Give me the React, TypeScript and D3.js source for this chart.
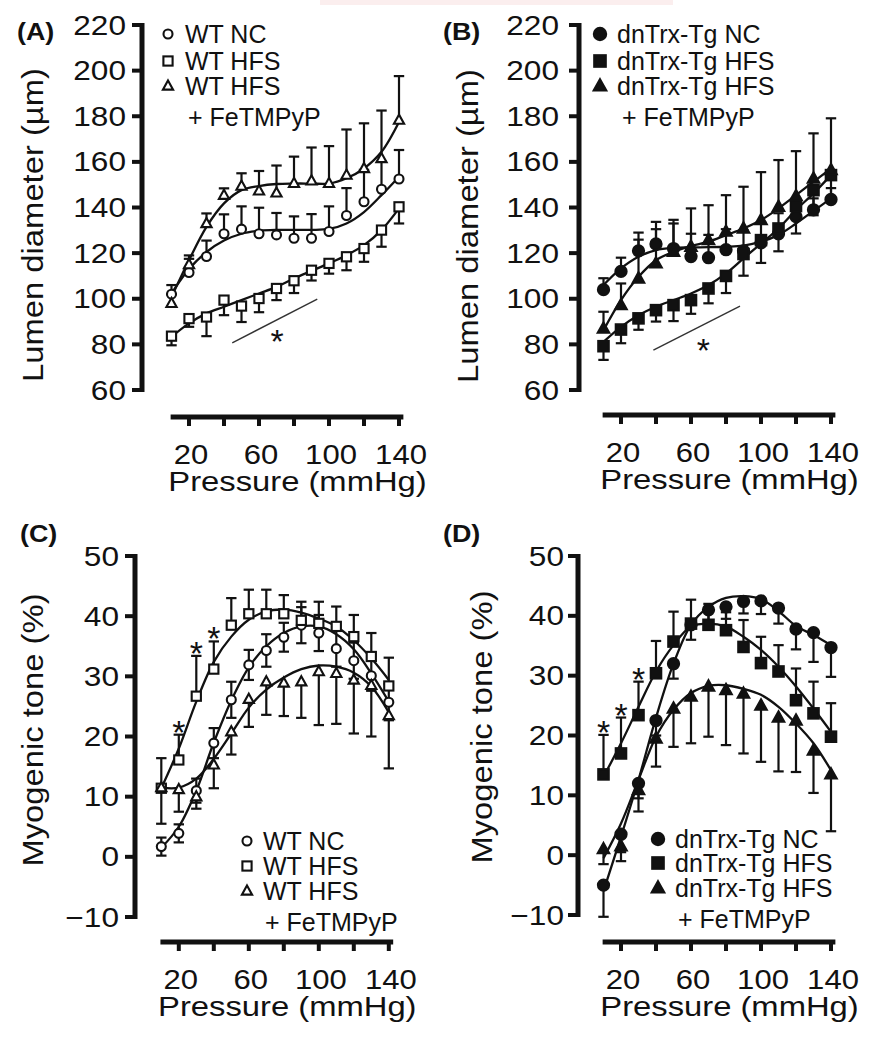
import React from "react";
import * as d3 from "d3";

// ---------------- DATA ----------------
const pressure = [10, 20, 30, 40, 50, 60, 70, 80, 90, 100, 110, 120, 130, 140];
const xTickValues = [20, 40, 60, 80, 100, 120, 140];
const xTickLabels = [20, 60, 100, 140];
const yTicksDiameter = [60, 80, 100, 120, 140, 160, 180, 200, 220];
const yTicksTone = [-10, 0, 10, 20, 30, 40, 50];

const legendWT = ["WT NC", "WT HFS", "WT HFS"];
const legendTg = ["dnTrx-Tg NC", "dnTrx-Tg HFS", "dnTrx-Tg HFS"];
const legendSuffix = "+ FeTMPyP";

// (A) WT lumen diameter (µm)
const wtNcDiam = [102, 111.5, 118.5, 128.5, 130.5, 128.5, 128, 126.5, 126.5, 129.5, 136.5, 142.5, 148, 152.5];
const wtNcDiamErr = [4, 6, 7, 8.5, 10, 11.4, 9.6, 9.6, 10.6, 11, 12, 14, 12, 12.7];
const wtNcDiamFit = [102.3, 113, 120.5, 125.5, 128.5, 129.8, 130.2, 130.2, 130.2, 130.6, 133, 138, 145.4, 153.5];
const wtHfsDiam = [83.6, 91.3, 92, 99.4, 96.8, 100.1, 104.5, 107.9, 112.5, 115.5, 118.4, 122, 130.1, 140.3];
const wtHfsDiamErr = [4, 3.6, 8.4, 6.6, 7, 6, 5.1, 5.4, 4.5, 4.5, 5.9, 5.8, 7.3, 7.3];
const wtHfsDiamFit = [83.3, 89.2, 93.6, 96.5, 99.4, 102.3, 105.2, 108.9, 112.2, 115.5, 119.1, 123.5, 130.1, 139.6];
const wtFeDiam = [98, 115, 133, 145.4, 149.4, 147.3, 146.4, 150.6, 151.7, 150.6, 154.2, 157.1, 161.5, 178.3];
const wtFeDiamErr = [4, 4, 4.4, 3, 5.6, 8.7, 12, 11.7, 14.6, 16.3, 20, 19.8, 21, 19.3];
const wtFeDiamFit = [100.8, 116.9, 131.5, 141.8, 147.6, 149.4, 150.3, 150.5, 150.5, 150.5, 152.8, 157.1, 164.4, 177.5];

// (B) dnTrx-Tg lumen diameter (µm)
const tgNcDiam = [104, 112, 121, 124, 122, 118.5, 118, 121.5, 121, 124.5, 128.5, 136, 139, 143.5];
const tgNcDiamErr = [5, 6, 8, 9.7, 11, 10, 10, 9, 9, 9, 9, 8, 5, 5];
const tgNcDiamFit = [106, 113.3, 118.4, 121.3, 122.3, 122.5, 122.6, 122.8, 123.3, 125, 128, 133, 138.5, 144];
const tgHfsDiam = [79.2, 86.5, 91.4, 95, 97.2, 99.4, 104.5, 110, 119.6, 125.7, 130.8, 140.6, 147.6, 154.2];
const tgHfsDiamErr = [6, 6, 5, 5, 7, 6, 6.5, 7.5, 9.5, 10, 10, 12, 11, 10];
const tgHfsDiamFit = [81.1, 87.7, 92.8, 96.5, 99.4, 102.3, 106, 111.1, 117.7, 124.2, 130.8, 138.9, 146.2, 154.2];
const tgFeDiam = [86.9, 97.2, 108.9, 115.5, 120.6, 122.8, 125.7, 129.4, 130.8, 134.5, 140.3, 145, 152.7, 156.4];
const tgFeDiamErr = [7.4, 9.5, 17, 15, 14, 16.8, 15.3, 16, 18.3, 21, 20.5, 19.7, 19.8, 22.7];
const tgFeDiamFit = [86.2, 99.4, 109.6, 116.9, 120.6, 123.1, 125, 127.9, 130.8, 134.5, 139.6, 145.4, 151.3, 157.1];

// (C) WT myogenic tone (%)
const wtNcTone = [1.7, 3.9, 11, 18.9, 26.1, 31.9, 34.3, 36.5, 38.5, 37.2, 34.6, 32.6, 30.1, 25.7];
const wtNcToneErr = [1.5, 1.5, 2, 2.5, 3, 2.5, 2.7, 2.4, 3, 3, 3, 3, 2.5, 3];
const wtNcToneFit = [1.5, 5, 11, 19, 26, 31.5, 35, 37.2, 38.3, 38.3, 37, 34.5, 30.5, 25.8];
const wtHfsTone = [11.4, 16.1, 26.7, 31.2, 38.5, 40.4, 40.4, 40.4, 39.3, 38.8, 38.3, 36.6, 33.3, 28.4];
const wtHfsToneErr = [5, 4.2, 6.7, 4.6, 4.5, 4, 4, 3.1, 3.1, 3.6, 3.3, 3.6, 3.9, 4.7];
const wtHfsToneFit = [11.4, 18, 25.8, 32.4, 36.6, 39.4, 40.8, 41.1, 40.6, 39.6, 38.3, 36, 33, 29.4];
const wtFeTone = [11.5, 11.2, 10, 15.3, 20.8, 26.2, 29.1, 28.9, 29.1, 30.8, 30.5, 29.4, 28.5, 23.5];
const wtFeToneErr = [6, 3.7, 2, 3.9, 3.8, 4.6, 5.5, 5.5, 6, 8.9, 8.4, 8.9, 8.5, 8.8];
const wtFeToneFit = [11.5, 11.5, 13, 16.3, 20.5, 24.8, 27.8, 29.8, 31.2, 31.8, 31.6, 30.6, 28.3, 24];

// (D) dnTrx-Tg myogenic tone (%)
const tgNcTone = [-5, 3.5, 12, 22.5, 32, 38.5, 41, 41.5, 42.4, 42.5, 41.3, 37.8, 37.2, 34.7];
const tgNcToneErr = [5.3, 3, 2.5, 2.5, 2.5, 2.5, 2, 2, 2, 2.2, 2.6, 3.4, 4.9, 4.9];
const tgNcToneFit = [-6, 3.1, 12.6, 23, 32, 38.5, 41.5, 43, 43.3, 42.8, 40.8, 38.3, 36.8, 35.1];
const tgHfsTone = [13.5, 17, 23.4, 30.4, 35.7, 38.7, 38.5, 37.6, 34.8, 32.1, 30.7, 25.9, 23.7, 19.8];
const tgHfsToneErr = [6.6, 6, 5.6, 5.4, 5, 4, 3.5, 3, 4.5, 4.4, 4.4, 5.3, 5.3, 5.6];
const tgHfsToneFit = [13.1, 18.7, 24.8, 30.7, 35.1, 38.2, 38.7, 38.2, 36.5, 34.3, 31.5, 28.2, 24.5, 20.6];
const tgFeTone = [1, 1.5, 10.9, 19.5, 24.5, 26.5, 28.2, 27.6, 27, 25, 23, 22.5, 17.5, 13.5];
const tgFeToneErr = [2.5, 2.5, 3.6, 4.7, 6.4, 7.8, 8.4, 9.2, 10, 9.4, 9, 8.6, 7.1, 9.5];
const tgFeToneFit = [-0.5, 5.3, 12.6, 19.8, 24.3, 27.1, 28.3, 28.4, 27.8, 26.8, 24.8, 22, 18.7, 14.2];

// significance annotations ([pressure, value])
const sigLineA = [[44.7, 80.7], [93.3, 99.8]];
const sigStarA = [70.4, 84.8];
const sigLineB = [[38.5, 77.5], [88, 96.8]];
const sigStarB = [67, 81.1];
const sigPressuresC = [20, 30, 40];
const sigPressuresD = [10, 20, 30];

// ---------------- RENDERING ----------------
const FONT = "'Liberation Sans', Arial, Helvetica, sans-serif";
const INK = "#111";

type Shape = "circle" | "square" | "triangle";
type Series = {
  values: number[];
  err: number[];
  fit: number[];
  shape: Shape;
  filled: boolean;
  dir: "up" | "down" | "both";
};

function T(props: any) {
  const { x, y, size = 28, sx = 1.15, anchor = "start", rotate = 0, weight = "normal", children } = props;
  return (
    <text
      transform={`translate(${x},${y}) rotate(${rotate}) scale(${sx},1)`}
      fontSize={size}
      fontFamily={FONT}
      fontWeight={weight}
      textAnchor={anchor}
      fill={INK}
    >
      {children}
    </text>
  );
}

function Marker({ shape, filled, cx, cy, k = 1 }: any) {
  const fill = filled ? INK : "#fff";
  const sw = 2.1;
  if (shape === "circle") {
    const r = (filled ? 5.6 : 4.5) * k;
    return <circle cx={cx} cy={cy} r={r} fill={fill} stroke={INK} strokeWidth={sw} />;
  }
  if (shape === "square") {
    const s = (filled ? 10.5 : 9.2) * k;
    return <rect x={cx - s / 2} y={cy - s / 2} width={s} height={s} fill={fill} stroke={INK} strokeWidth={sw} />;
  }
  const w = (filled ? 11.5 : 10.2) * k;
  const h = w * 0.9;
  const d = `M${cx},${cy - h * 0.6}L${cx + w / 2},${cy + h * 0.4}L${cx - w / 2},${cy + h * 0.4}Z`;
  return <path d={d} fill={fill} stroke={INK} strokeWidth={sw} strokeLinejoin="miter" />;
}

function Panel({ p }: any) {
  const x = d3.scaleLinear().domain([0, 140]).range([p.x0, p.x0 + 140 * 1.75]);
  const y = d3.scaleLinear().domain(p.yDomain).range(p.yRange);
  const line = d3
    .line<number>()
    .x((_, i) => x(pressure[i]))
    .y((d) => y(d))
    .curve(d3.curveCatmullRom.alpha(0.5));
  const fmt = d3.format("d");
  const yTop = y(p.yDomain[1]);
  const yBot = y(p.yDomain[0]);
  const series: Series[] = p.series;
  const cap = 5.2;

  return (
    <g>
      {/* panel label */}
      <T x={p.labelX} y={p.labelY} size={24} weight="bold" sx={1.12}>{p.label}</T>

      {/* y axis */}
      <line x1={p.yAxisX} x2={p.yAxisX} y1={yTop - 2} y2={yBot + 2} stroke={INK} strokeWidth={5} />
      {p.yTicks.map((t: number) => (
        <g key={t}>
          <line x1={p.yAxisX - 10} x2={p.yAxisX} y1={y(t)} y2={y(t)} stroke={INK} strokeWidth={4} />
          <T x={p.yTickLabelX} y={y(t) + 9.5} size={27} sx={1.17} anchor="end">{fmt(t)}</T>
        </g>
      ))}
      <T x={p.yTitleX} y={p.yTitleY} size={29} sx={1.13} anchor="middle" rotate={-90}>{p.yTitle}</T>

      {/* x axis */}
      <line x1={x(9.5)} x2={x(142.5)} y1={p.xAxisY} y2={p.xAxisY} stroke={INK} strokeWidth={5} />
      {xTickValues.map((t) => (
        <line key={t} x1={x(t)} x2={x(t)} y1={p.xAxisY} y2={p.xAxisY + 9} stroke={INK} strokeWidth={4} />
      ))}
      {xTickLabels.map((t) => (
        <T key={t} x={x(t) + 2} y={p.xAxisY + 47} size={27} sx={1.15} anchor="middle">{fmt(t)}</T>
      ))}
      <T x={x(82)} y={p.xAxisY + 74} size={28} sx={1.17} anchor="middle">Pressure (mmHg)</T>

      {/* fitted curves */}
      {series.map((s, i) => (
        <path key={"f" + i} d={line(s.fit) || ""} fill="none" stroke={INK} strokeWidth={2.3} />
      ))}

      {/* error bars */}
      {series.map((s, i) =>
        s.values.map((v, j) => {
          const e = s.err[j];
          const hi = s.dir === "down" ? v : v + e;
          const lo = s.dir === "up" ? v : v - e;
          const cx = x(pressure[j]);
          return (
            <g key={"e" + i + "-" + j} stroke={INK} strokeWidth={2.2}>
              <line x1={cx} x2={cx} y1={y(hi)} y2={y(lo)} />
              {s.dir !== "down" && <line x1={cx - cap} x2={cx + cap} y1={y(hi)} y2={y(hi)} />}
              {s.dir !== "up" && <line x1={cx - cap} x2={cx + cap} y1={y(lo)} y2={y(lo)} />}
            </g>
          );
        })
      )}

      {/* markers */}
      {series.map((s, i) =>
        s.values.map((v, j) => (
          <Marker key={"m" + i + "-" + j} shape={s.shape} filled={s.filled} cx={x(pressure[j])} cy={y(v)} />
        ))
      )}

      {/* significance */}
      {p.sigLine && (
        <g>
          <line
            x1={x(p.sigLine[0][0])}
            y1={y(p.sigLine[0][1])}
            x2={x(p.sigLine[1][0])}
            y2={y(p.sigLine[1][1])}
            stroke="#333"
            strokeWidth={1.4}
          />
          <T x={x(p.sigStar[0])} y={y(p.sigStar[1]) + 20} size={34} sx={1} anchor="middle">*</T>
        </g>
      )}
      {p.sigPressures &&
        p.sigPressures.map((pr: number) => {
          const j = pressure.indexOf(pr);
          const s: Series = p.series[1];
          return (
            <T key={"s" + pr} x={x(pr)} y={y(s.values[j] + s.err[j]) - 11 + 20} size={34} sx={1} anchor="middle">*</T>
          );
        })}

      {/* legend */}
      {p.legendNames.map((name: string, i: number) => (
        <g key={"l" + i}>
          <Marker shape={series[i].shape} filled={series[i].filled} cx={p.legendMarkerX} cy={p.legendBase[i] - 9} k={p.legendK} />
          <T x={p.legendTextX} y={p.legendBase[i]} size={25} sx={1}>{name}</T>
        </g>
      ))}
      <T x={p.legendPlusX} y={p.legendPlusY} size={25} sx={1}>{legendSuffix}</T>
    </g>
  );
}

const panels = [
  {
    label: "(A)", labelX: 17, labelY: 40,
    x0: 154, yDomain: [60, 220], yRange: [390, 25],
    yTicks: yTicksDiameter, yAxisX: 142, yTickLabelX: 126,
    xAxisY: 417, yTitle: "Lumen diameter (µm)", yTitleX: 43, yTitleY: 225,
    legendNames: legendWT, legendMarkerX: 168, legendTextX: 185, legendBase: [43, 70, 95],
    legendPlusX: 188, legendPlusY: 126, legendK: 1,
    series: [
      { values: wtNcDiam, err: wtNcDiamErr, fit: wtNcDiamFit, shape: "circle", filled: false, dir: "up" },
      { values: wtHfsDiam, err: wtHfsDiamErr, fit: wtHfsDiamFit, shape: "square", filled: false, dir: "down" },
      { values: wtFeDiam, err: wtFeDiamErr, fit: wtFeDiamFit, shape: "triangle", filled: false, dir: "up" },
    ],
    sigLine: sigLineA, sigStar: sigStarA,
  },
  {
    label: "(B)", labelX: 443, labelY: 40,
    x0: 586, yDomain: [60, 220], yRange: [390, 25],
    yTicks: yTicksDiameter, yAxisX: 579, yTickLabelX: 559,
    xAxisY: 415, yTitle: "Lumen diameter (µm)", yTitleX: 478, yTitleY: 226,
    legendNames: legendTg, legendMarkerX: 600, legendTextX: 617, legendBase: [43, 70, 95],
    legendPlusX: 622, legendPlusY: 126, legendK: 1.1,
    series: [
      { values: tgNcDiam, err: tgNcDiamErr, fit: tgNcDiamFit, shape: "circle", filled: true, dir: "up" },
      { values: tgHfsDiam, err: tgHfsDiamErr, fit: tgHfsDiamFit, shape: "square", filled: true, dir: "down" },
      { values: tgFeDiam, err: tgFeDiamErr, fit: tgFeDiamFit, shape: "triangle", filled: true, dir: "up" },
    ],
    sigLine: sigLineB, sigStar: sigStarB,
  },
  {
    label: "(C)", labelX: 20, labelY: 542,
    x0: 143.8, yDomain: [-10, 50], yRange: [917, 556],
    yTicks: yTicksTone, yAxisX: 135, yTickLabelX: 119,
    xAxisY: 942, yTitle: "Myogenic tone (%)", yTitleX: 43, yTitleY: 730,
    legendNames: legendWT, legendMarkerX: 247, legendTextX: 263, legendBase: [850, 875, 900],
    legendPlusX: 265, legendPlusY: 931, legendK: 1,
    series: [
      { values: wtNcTone, err: wtNcToneErr, fit: wtNcToneFit, shape: "circle", filled: false, dir: "both" },
      { values: wtHfsTone, err: wtHfsToneErr, fit: wtHfsToneFit, shape: "square", filled: false, dir: "up" },
      { values: wtFeTone, err: wtFeToneErr, fit: wtFeToneFit, shape: "triangle", filled: false, dir: "down" },
    ],
    sigPressures: sigPressuresC,
  },
  {
    label: "(D)", labelX: 443, labelY: 542,
    x0: 586, yDomain: [-10, 50], yRange: [915, 556],
    yTicks: yTicksTone, yAxisX: 578, yTickLabelX: 564,
    xAxisY: 942, yTitle: "Myogenic tone (%)", yTitleX: 492, yTitleY: 727,
    legendNames: legendTg, legendMarkerX: 658, legendTextX: 675, legendBase: [848, 872, 897],
    legendPlusX: 678, legendPlusY: 928, legendK: 1.1,
    series: [
      { values: tgNcTone, err: tgNcToneErr, fit: tgNcToneFit, shape: "circle", filled: true, dir: "down" },
      { values: tgHfsTone, err: tgHfsToneErr, fit: tgHfsToneFit, shape: "square", filled: true, dir: "up" },
      { values: tgFeTone, err: tgFeToneErr, fit: tgFeToneFit, shape: "triangle", filled: true, dir: "down" },
    ],
    sigPressures: sigPressuresD,
  },
];

export default function App() {
  return (
    <svg
      width={879}
      height={1050}
      viewBox="0 0 879 1050"
      style={{ position: "absolute", left: 0, top: 0, background: "#fff" }}
    >
      <rect x={0} y={0} width={879} height={1050} fill="#fff" />
      <rect x={320} y={0} width={353} height={5} fill="#fbeeee" />
      {panels.map((p, i) => (
        <Panel key={i} p={p} />
      ))}
    </svg>
  );
}
